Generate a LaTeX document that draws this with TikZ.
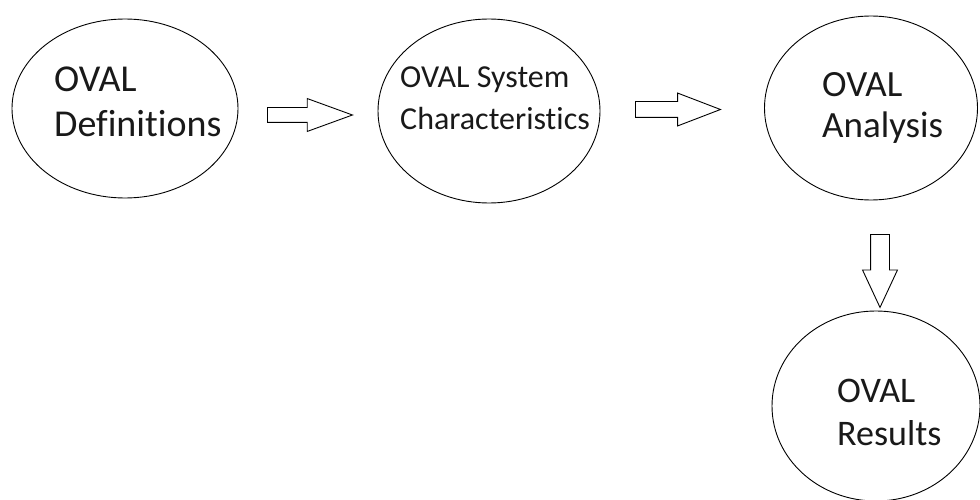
\documentclass[tikz,border=0pt]{standalone}
\usepackage{fontspec}
\setmainfont{Carlito}[Ligatures={NoCommon,NoRequired,NoContextual}]
\usetikzlibrary{shapes.geometric,shapes.arrows}

\begin{document}
\begin{tikzpicture}[x=1pt,y=-1pt,
  stage/.style={draw=black, line width=0.9pt, ellipse, inner sep=0pt},
  lbl/.style={anchor=base west, inner sep=0pt, text=black!90},
  big/.style={lbl, font=\fontsize{38}{45}\selectfont},
  small/.style={lbl, font=\fontsize{32}{42}\selectfont},
  blockarrow/.style={draw=black, line width=0.9pt, single arrow,
    single arrow head indent=0pt, inner xsep=0pt, minimum width=0pt,
    text height=0pt, text depth=0pt, text width=0pt, anchor=tail}
]
  \useasboundingbox (0,0) rectangle (980,500);
  \fill[white] (0,0) rectangle (980,500);

  % the four stages
  \node[stage, minimum width=226pt, minimum height=179pt] (defs)  at (125,108.5) {};
  \node[stage, minimum width=222pt, minimum height=184pt] (sysc)  at (489,111) {};
  \node[stage, minimum width=213pt, minimum height=184pt] (anal)  at (871,108) {};
  \node[stage, minimum width=208pt, minimum height=190pt] (res)   at (876,406) {};

  % stage labels
  \node[big]   (defs1) at (54,92)   {OVAL};
  \node[big]   (defs2) at (54,137)  {Definitions};
  \node[small] (sysc1) at (400,88)  {OVAL System};
  \node[small] (sysc2) at (400,130) {Characteristics};
  \node[big, font=\fontsize{37}{41}\selectfont] (anal1) at (822,97)  {OVAL};
  \node[big, font=\fontsize{37}{41}\selectfont] (anal2) at (822,138) {Analysis};
  \node[big, font=\fontsize{36}{43}\selectfont] (res1)  at (837,402) {OVAL};
  \node[big, font=\fontsize{36}{43}\selectfont] (res2)  at (837,445) {Results};

  % hollow block arrows between the stages
  \node[blockarrow, inner ysep=7pt, single arrow head extend=9pt,
        single arrow tip angle=40, minimum height=85pt] (a1) at (267,115) {};
  \node[blockarrow, inner ysep=7.5pt, single arrow head extend=8.5pt,
        single arrow tip angle=42, minimum height=85pt] (a2) at (635,109.5) {};
  \node[blockarrow, inner ysep=9pt, single arrow head extend=8pt,
        single arrow tip angle=50, minimum height=73pt, rotate=-90] (a3) at (880,234) {};
\end{tikzpicture}
\end{document}
